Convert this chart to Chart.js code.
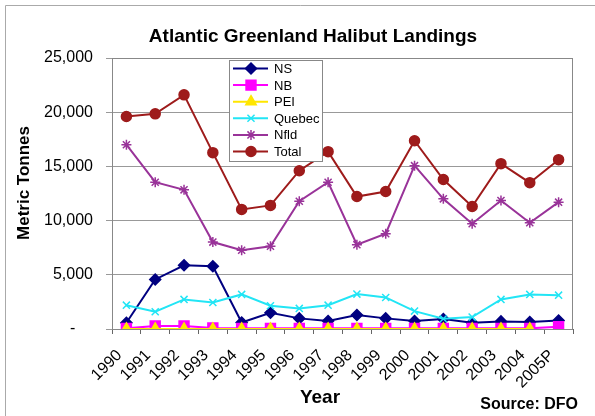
<!DOCTYPE html>
<html>
  <head>
    <title>Atlantic Greenland Halibut Landings</title>
    <script src="https://cdn.jsdelivr.net/npm/chart.js"></script>
    <style>
      body {
        background: #fff;
        margin: 0;
      }
    </style>
  </head>
  <body>
    <canvas id="chart" width="595" height="416"></canvas>

    <script>
      // Landings in metric tonnes
      const years = ['1990','1991','1992','1993','1994','1995','1996','1997','1998','1999','2000','2001','2002','2003','2004','2005P']
      const ns = [580,4570,5880,5790,600,1500,980,735,1290,980,735,920,580,700,640,780]
      const nb = [60,270,270,100,60,60,60,60,60,60,60,60,60,60,60,210]
      const pei = [10,10,10,10,10,10,10,10,10,10,10,10,10,10,10,null]
      const quebec = [2200,1590,2730,2450,3190,2140,1900,2200,3220,2910,1650,950,1100,2730,3190,3120]
      const nfld = [17000,13540,12840,8020,7260,7630,11790,13540,7780,8790,15070,12010,9710,11850,9800,11700]
      const total = [19600,19850,21600,16270,11030,11400,14600,16360,12220,12680,17370,13790,11300,15250,13500,15620]

      const FONT = "'Liberation Sans', Arial, sans-serif"

      function series(label, data, color, pointStyle, radius, order) {
        return {
          label: label,
          data: data,
          borderColor: color,
          backgroundColor: color,
          borderWidth: 2,
          pointStyle: pointStyle,
          pointRadius: radius,
          pointBackgroundColor: color,
          pointBorderColor: color,
          pointBorderWidth: 1.5,
          order: order,
          tension: 0
        }
      }

      // Outer frame and plot border
      const framePlugin = {
        id: 'frame',
        beforeDraw(chart) {
          const ctx = chart.ctx
          ctx.save()
          ctx.fillStyle = '#fff'
          ctx.fillRect(0, 0, chart.width, chart.height)
          ctx.strokeStyle = '#aaa'
          ctx.lineWidth = 1
          ctx.beginPath()
          ctx.moveTo(5.5, chart.height)
          ctx.lineTo(5.5, 5.5)
          ctx.lineTo(chart.width, 5.5)
          ctx.stroke()
          ctx.restore()
        },
        beforeDatasetsDraw(chart) {
          const a = chart.chartArea
          const ctx = chart.ctx
          ctx.save()
          ctx.strokeStyle = '#888'
          ctx.lineWidth = 1
          ctx.strokeRect(a.left + 0.5, a.top + 0.5, a.right - a.left - 1, a.bottom - a.top)
          ctx.restore()
        }
      }

      // Legend box sitting inside the plot, like the spreadsheet one
      const boxLegend = {
        id: 'boxLegend',
        afterDatasetsDraw(chart) {
          const ctx = chart.ctx
          const sets = chart.data.datasets
          ctx.save()
          ctx.fillStyle = '#fff'
          ctx.strokeStyle = '#888'
          ctx.lineWidth = 1
          ctx.fillRect(229.5, 60.5, 93, 101)
          ctx.strokeRect(229.5, 60.5, 93, 101)
          sets.forEach((ds, i) => {
            const y = 68.5 + i * 16.6
            ctx.strokeStyle = ds.borderColor
            ctx.lineWidth = 2
            ctx.beginPath()
            ctx.moveTo(233, y)
            ctx.lineTo(268, y)
            ctx.stroke()
            ctx.fillStyle = ds.pointBackgroundColor
            ctx.strokeStyle = ds.pointBorderColor
            ctx.lineWidth = ds.pointBorderWidth
            Chart.helpers.drawPoint(ctx, {pointStyle: ds.pointStyle, radius: ds.pointRadius, rotation: 0, borderWidth: ds.pointBorderWidth}, 251, y)
            ctx.fillStyle = '#000'
            ctx.font = '13px ' + FONT
            ctx.textAlign = 'left'
            ctx.textBaseline = 'middle'
            ctx.fillText(ds.label, 274, y + 1)
          })
          ctx.restore()
        }
      }

      // Titles placed where the original has them
      const texts = {
        id: 'texts',
        afterDraw(chart) {
          const ctx = chart.ctx
          ctx.save()
          ctx.fillStyle = '#000'
          ctx.textBaseline = 'alphabetic'

          ctx.font = 'bold 19px ' + FONT
          ctx.textAlign = 'center'
          ctx.fillText('Atlantic Greenland Halibut Landings', 313, 42)
          ctx.fillText('Year', 320, 403)

          ctx.font = 'bold 16px ' + FONT
          ctx.textAlign = 'right'
          ctx.fillText('Source: DFO', 578, 409)

          ctx.translate(28.5, 183)
          ctx.rotate(-Math.PI / 2)
          ctx.font = 'bold 17px ' + FONT
          ctx.textAlign = 'center'
          ctx.fillText('Metric Tonnes', 0, 0)
          ctx.restore()
        }
      }

      const ctx = document.getElementById('chart').getContext('2d')

      new Chart(ctx, {
        type: 'line',
        data: {
          labels: years,
          datasets: [
            series('NS', ns, '#000080', 'rectRot', 5.5, 6),
            series('NB', nb, '#ff00ff', 'rect', 7, 5),
            series('PEI', pei, '#ffe600', 'triangle', 6, 4),
            series('Quebec', quebec, '#22e5f5', 'crossRot', 5, 3),
            series('Nfld', nfld, '#993399', 'star', 5, 2),
            series('Total', total, '#9e1b1b', 'circle', 5, 1)
          ]
        },
        options: {
          responsive: false,
          animation: false,
          spanGaps: false,
          layout: {
            padding: {top: 58, right: 22, left: 0, bottom: 0}
          },
          scales: {
            x: {
              offset: true,
              grid: {
                offset: true,
                drawOnChartArea: false,
                tickLength: 5,
                color: '#666'
              },
              border: {color: '#666'},
              ticks: {
                autoSkip: false,
                minRotation: 45,
                maxRotation: 45,
                padding: 12,
                labelOffset: -7,
                color: '#000',
                font: {family: FONT, size: 16}
              },
              afterFit: (scale) => { scale.height = 87 }
            },
            y: {
              min: 0,
              max: 25000,
              grid: {
                color: '#999',
                tickLength: 6
              },
              border: {color: '#666'},
              ticks: {
                stepSize: 5000,
                padding: 13,
                color: '#000',
                font: {family: FONT, size: 16},
                callback: (v) => v === 0 ? '-    ' : v.toLocaleString('en-US')
              },
              afterFit: (scale) => { scale.width = 112 }
            }
          },
          plugins: {
            legend: {display: false},
            title: {display: false},
            tooltip: {enabled: false}
          }
        },
        plugins: [framePlugin, boxLegend, texts]
      })
    </script>
  </body>
</html>
